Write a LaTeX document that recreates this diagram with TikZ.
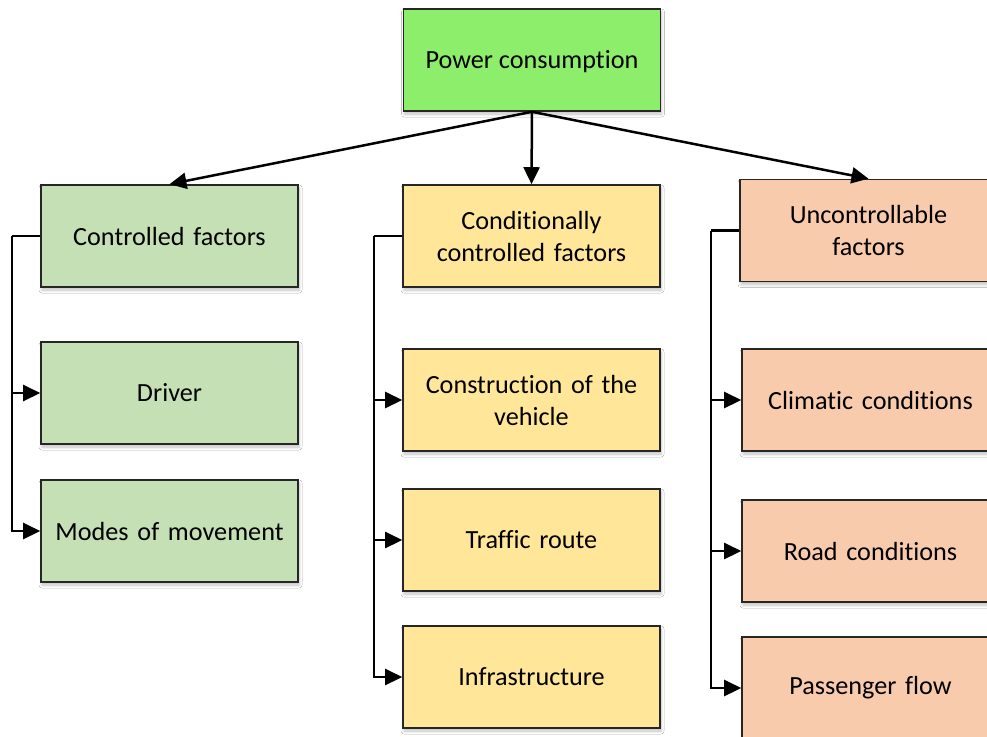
\documentclass[tikz,border=0pt]{standalone}
\usepackage{fontspec}
\setmainfont{Carlito}[Ligatures={NoCommon}]
\usetikzlibrary{arrows.meta,shadows.blur}
\definecolor{topgreen}{HTML}{8CEE6A}
\definecolor{cgreen}{HTML}{C5E0B4}
\definecolor{cyellow}{HTML}{FFE699}
\definecolor{corange}{HTML}{F8CBAD}
\tikzset{
  box/.style={draw=black!85, line width=1.6pt, rectangle, minimum width=257pt, minimum height=102pt,
    text width=250pt, align=center, inner sep=0pt,
    font=\fontsize{26.2}{32}\selectfont,
    blur shadow={shadow xshift=1pt, shadow yshift=-3pt, shadow blur steps=6, shadow opacity=25, shadow blur radius=3pt}},
  arr/.style={line width=2.5pt, -{Triangle[length=17pt,width=16pt]}},
  link/.style={line width=2.5pt}
}
\begin{document}
\begin{tikzpicture}[x=1pt,y=-1pt]
\useasboundingbox (0,0) rectangle (987,736);
\clip (0,0) rectangle (987,736);
\fill[white] (0,0) rectangle (987,736);
% top
\node[box, fill=topgreen] (pc) at (532,60) {};
\node[font=\fontsize{26.2}{32}\selectfont, inner sep=0pt] (pct) at (532,62) {Power consumption};
% left column
\node[box, fill=cgreen] (cf) at (169.5,236) {Controlled factors};
\node[box, fill=cgreen] (drv) at (169.5,393) {Driver};
\node[box, fill=cgreen] (mod) at (169.5,531) {Modes of movement};
% middle column
\node[box, fill=cyellow] (ccf) at (531.5,236) {Conditionally\\controlled factors};
\node[box, fill=cyellow] (veh) at (531.5,400) {Construction of the\\vehicle};
\node[box, fill=cyellow] (rte) at (531.5,540) {Traffic route};
\node[box, fill=cyellow] (inf) at (531.5,677) {Infrastructure};
% right column
\node[box, fill=corange] (ucf) at (868.5,230.5) {Uncontrollable\\factors};
\node[box, fill=corange] (cli) at (870.5,400) {Climatic conditions};
\node[box, fill=corange] (road) at (870.5,551) {Road conditions};
\node[box, fill=corange] (pas) at (870.5,688) {Passenger flow};
% top connectors
\draw[arr] (pc.south) -- (cf.north);
\draw[arr] (pc.south) -- (ccf.north);
\draw[arr] (pc.south) -- (ucf.north);
% left brackets
\draw[link] (cf.west) -- ++(-28,0) coordinate (cfL);
\draw[arr] (cfL) |- (drv.west);
\draw[arr] (cfL) |- (mod.west);
\draw[link] (ccf.west) -- ++(-28,0) coordinate (ccfL);
\draw[arr] (ccfL) |- (veh.west);
\draw[arr] (ccfL) |- (rte.west);
\draw[arr] (ccfL) |- (inf.west);
\draw[link] (ucf.west) -- ++(-28,0) coordinate (ucfL);
\draw[arr] (ucfL) |- (cli.west);
\draw[arr] (ucfL) |- (road.west);
\draw[arr] (ucfL) |- (pas.west);
\end{tikzpicture}
\end{document}
